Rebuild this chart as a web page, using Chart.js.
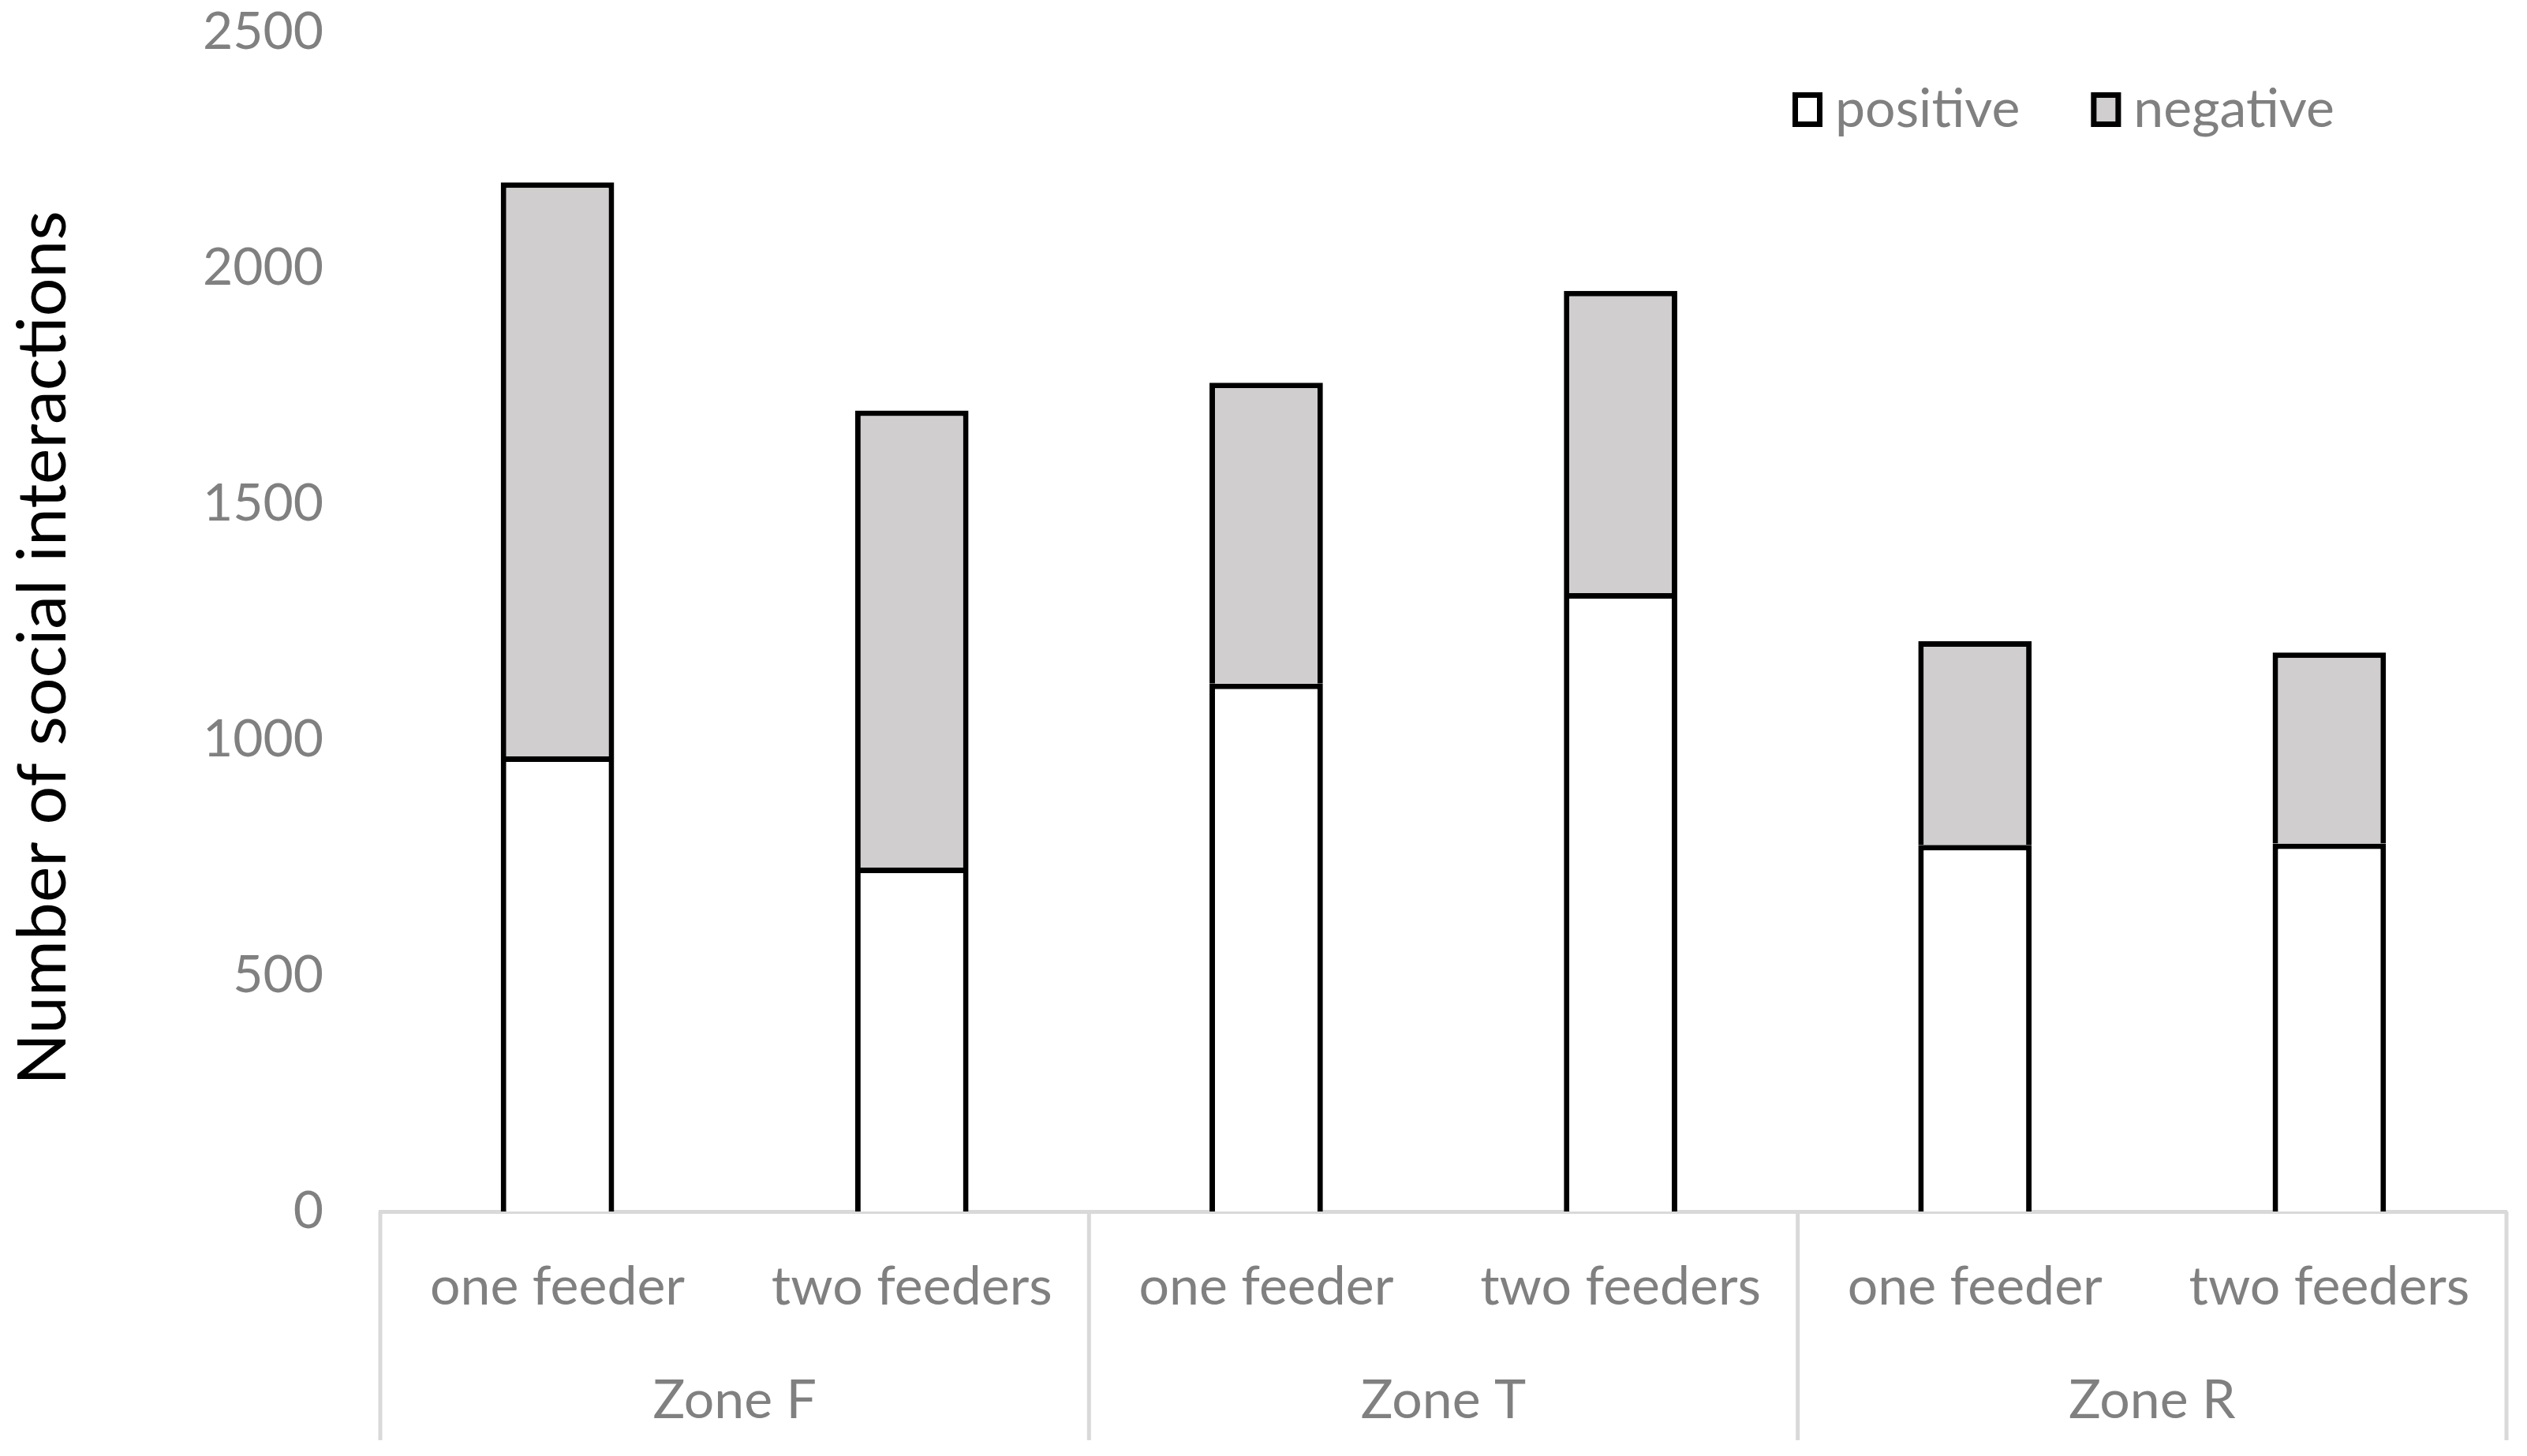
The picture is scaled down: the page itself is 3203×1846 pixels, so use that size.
<!DOCTYPE html>
<html>
<head>
<meta charset="utf-8">
<script src="https://cdn.jsdelivr.net/npm/chart.js@4.4.1/dist/chart.umd.min.js"></script>
<style>
  html, body { margin: 0; padding: 0; background: #fff; }
  #wrap { width: 3203px; height: 1846px; }
</style>
</head>
<body>
<div id="wrap"><canvas id="chart" width="3203" height="1846"></canvas></div>
<script>
// donnees
const feeders = ['one feeder', 'two feeders', 'one feeder', 'two feeders', 'one feeder', 'two feeders'];
const zones = ['Zone F', 'Zone T', 'Zone R'];
const positive = [965, 729, 1119, 1311, 777, 780];
const negative = [1217, 969, 638, 641, 432, 405];
const yTicks = [0, 500, 1000, 1500, 2000, 2500];

const FONT = 'Lato, "Open Sans", sans-serif';
const GREY_TEXT = '#808080';
const GREY_LINE = '#d9d9d9';

// axe X a deux niveaux + legende
const multiLevelAxis = {
    id: 'multiLevelAxis',
    afterDraw(chart) {
        const ctx = chart.ctx;
        const x = chart.scales.x;
        const area = chart.chartArea;
        const bottom = 1826;
        const step = x.getPixelForValue(1) - x.getPixelForValue(0);

        ctx.save();
        ctx.fillStyle = GREY_TEXT;
        ctx.textAlign = 'center';
        ctx.textBaseline = 'middle';
        ctx.font = '68px ' + FONT;
        feeders.forEach((lab, i) => {
            ctx.fillText(lab, x.getPixelForValue(i), 1632);
        });

        ctx.strokeStyle = GREY_LINE;
        ctx.lineWidth = 5;
        for (let g = 0; g <= zones.length; g++) {
            const px = x.getPixelForValue(g * 2) - step / 2;
            ctx.beginPath();
            ctx.moveTo(px, area.bottom);
            ctx.lineTo(px, bottom);
            ctx.stroke();
        }
        zones.forEach((z, g) => {
            const px = (x.getPixelForValue(g * 2) + x.getPixelForValue(g * 2 + 1)) / 2;
            ctx.fillText(z, px, 1776);
        });

        // legende
        let lx = 2272;
        const ly = 139;
        ctx.textAlign = 'left';
        chart.data.datasets.forEach(ds => {
            ctx.fillStyle = ds.backgroundColor;
            ctx.fillRect(lx, ly - 22, 38, 44);
            ctx.strokeStyle = '#000';
            ctx.lineWidth = 7;
            ctx.strokeRect(lx + 3.5, ly - 18.5, 31, 37);
            ctx.fillStyle = GREY_TEXT;
            ctx.fillText(ds.label, lx + 54, ly);
            lx += 54 + ctx.measureText(ds.label).width + 90;
        });
        ctx.restore();
    }
};

new Chart(document.getElementById('chart'), {
    type: 'bar',
    data: {
        labels: feeders.map((f, i) => zones[Math.floor(i / 2)] + ' ' + f),
        datasets: [{
            label: 'positive',
            data: positive,
            backgroundColor: '#ffffff',
            borderColor: '#000000',
            borderWidth: 7
        }, {
            label: 'negative',
            data: negative,
            backgroundColor: '#d0cece',
            borderColor: '#000000',
            borderWidth: 7
        }]
    },
    options: {
        responsive: false,
        animation: false,
        devicePixelRatio: 1,
        layout: { padding: { left: 0, right: 26, top: 0, bottom: 0 } },
        plugins: {
            legend: { display: false },
            tooltip: { enabled: false }
        },
        datasets: {
            bar: { barPercentage: 0.32, categoryPercentage: 1 }
        },
        scales: {
            x: {
                stacked: true,
                offset: true,
                grid: { display: false, drawTicks: false },
                border: { display: true, color: GREY_LINE, width: 5 },
                ticks: { display: false },
                afterFit: s => { s.height = 310; }
            },
            y: {
                stacked: true,
                min: 0,
                max: 2500,
                grid: { display: false, drawTicks: false },
                border: { display: false },
                afterBuildTicks: s => { s.ticks = yTicks.map(v => ({ value: v })); },
                ticks: {
                    color: GREY_TEXT,
                    font: { family: FONT, size: 66 },
                    padding: 72,
                    callback: v => String(v)
                },
                title: {
                    display: true,
                    // espaces en fin de texte pour descendre un peu le titre
                    text: 'Number of social interactions\u00a0\u00a0\u00a0',
                    color: '#000000',
                    font: { family: FONT, size: 86 },
                    padding: { top: 4, bottom: 0 }
                },
                afterFit: s => {
                    s.width = 482;
                    s.paddingTop = 41;
                    s.paddingBottom = 0;
                }
            }
        }
    },
    plugins: [multiLevelAxis]
});
</script>
</body>
</html>
